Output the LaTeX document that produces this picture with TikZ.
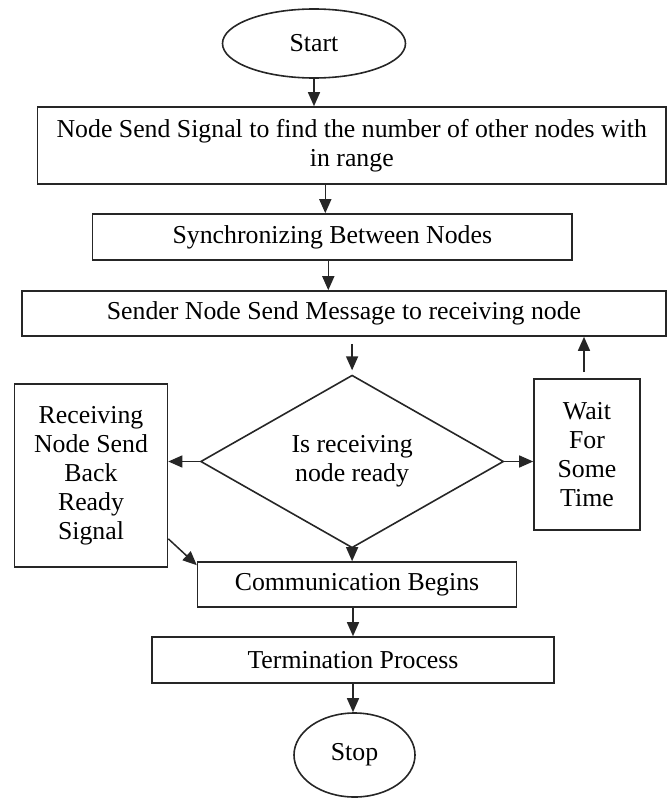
\documentclass[tikz,border=0pt]{standalone}
\usepackage{fontspec}
\setmainfont{Liberation Serif}
\usepackage{tikz}
\usetikzlibrary{shapes.geometric,arrows.meta}
\pgfdeclarelayer{background}
\pgfsetlayers{background,main}
\definecolor{flowlinecolor}{rgb}{0.15, 0.15, 0.15}
\tikzstyle{flowedge} = [draw = flowlinecolor, line width = 1.5pt, -{Triangle[length = 14pt, width = 12pt]}]
\tikzstyle{flownode} = [draw = flowlinecolor, line width = 1.6pt, text = black, inner sep = 0pt, align = center, font = \fontsize{25.8}{29}\selectfont]
\tikzstyle{flowbox} = [rectangle]
\tikzstyle{flowterm} = [ellipse]
\tikzstyle{flowdecision} = [diamond]

\begin{document}
\begin{tikzpicture}
\useasboundingbox (0pt, 0pt) rectangle (667pt, -800pt);
\node[flownode, flowterm, minimum width = 183pt, minimum height = 69pt] (nstart) at (314pt, -43.5pt) {Start};
\node[flownode, flowbox, minimum width = 628.5pt, minimum height = 77pt] (nsignal) at (351.8pt, -145.5pt) {Node Send Signal to find the number of other nodes with\\in range};
\node[flownode, flowbox, minimum width = 479.4pt, minimum height = 46pt] (nsync) at (332.3pt, -237pt) {Synchronizing Between Nodes};
\node[flownode, flowbox, minimum width = 644pt, minimum height = 45pt] (nsend) at (344pt, -313.5pt) {Sender Node Send Message to receiving node};
\node[flownode, flowdecision, minimum width = 303pt, minimum height = 151pt] (nready) at (352.1pt, -461.5pt) {Is receiving\\node ready};
\node[flownode, flowbox, minimum width = 153pt, minimum height = 183pt] (nback) at (91pt, -475.5pt) {Receiving\\Node Send\\Back\\Ready\\Signal};
\node[flownode, flowbox, minimum width = 106pt, minimum height = 151pt] (nwait) at (587pt, -454.5pt) {Wait\\For\\Some\\Time};
\node[flownode, flowbox, minimum width = 318.8pt, minimum height = 45pt] (ncomm) at (357pt, -584.5pt) {Communication Begins};
\node[flownode, flowbox, minimum width = 402pt, minimum height = 46pt] (nterm) at (353pt, -660pt) {Termination Process};
\node[flownode, flowterm, minimum width = 121pt, minimum height = 84pt] (nstop) at (354.5pt, -755pt) {Stop};
\begin{pgfonlayer}{background}
\draw[flowedge] (nstart) -- (nstart |- nsignal.north);
\draw[flowedge] ([xshift = -7pt]nsync.north |- nsignal.south) -- ([xshift = -7pt]nsync.north);
\draw[flowedge] ([xshift = -4pt]nsync.south) -- ([xshift = -4pt]nsync.south |- nsend.north);
\draw[flowedge, shorten <= 7pt, shorten >= 4pt] (nready.north |- nsend.south) -- (nready.north);
\draw[flowedge] (nready.west) -- (nready.west -| nback.east);
\draw[flowedge] (nready.east) -- (nready.east -| nwait.west);
\draw[flowedge, shorten <= 6pt] ([xshift = -3pt]nwait.north) -- ([xshift = -3pt]nwait.north |- nsend.south);
\draw[flowedge] (nready.south) -- (nready.south |- ncomm.north);
\draw[flowedge] ([yshift = 29pt]nback.south east) -- ([yshift = -4pt]ncomm.north west);
\draw[flowedge] ([xshift = -4pt]ncomm.south) -- (nterm.north);
\draw[flowedge] (nterm.south) -- (nterm.south |- nstop.north);
\end{pgfonlayer}

\end{tikzpicture}
\end{document}
